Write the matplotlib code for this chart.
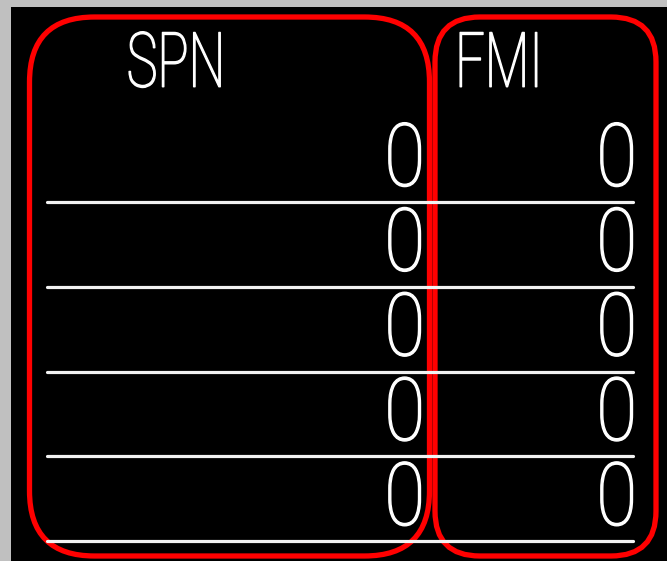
import matplotlib
matplotlib.use("Agg")
from matplotlib import pyplot as plt
from matplotlib.patches import FancyBboxPatch, Rectangle
from matplotlib.patheffects import AbstractPathEffect
from matplotlib.transforms import Affine2D

# table content
headers = ["SPN", "FMI"]
spn_values = [0, 0, 0, 0, 0]
fmi_values = [0, 0, 0, 0, 0]

W, H = 667, 561
fig = plt.figure(figsize=(W / 100, H / 100), dpi=100, facecolor="#c0c0c0")
ax = fig.add_axes([0, 0, 1, 1])
ax.set_xlim(0, W)
ax.set_ylim(H, 0)
ax.axis("off")

font = ["Roboto", "DejaVu Sans"]


class Squeeze(AbstractPathEffect):
    # narrow the glyphs horizontally around an anchor x (display px), slightly thicker strokes
    def __init__(self, sx, x0, lw):
        super().__init__()
        self.sx = sx
        self.x0 = x0
        self.lw = lw

    def draw_path(self, renderer, gc, tpath, affine, rgbFace=None):
        t = affine + Affine2D().translate(-self.x0, 0).scale(self.sx, 1).translate(self.x0, 0)
        gc0 = renderer.new_gc()
        gc0.copy_properties(gc)
        gc0.set_linewidth(self.lw)
        gc0.set_foreground("white")
        renderer.draw_path(gc0, tpath, t, rgbFace)
        gc0.restore()


def put(x, y, s, size, ha, sx):
    x0 = ax.transData.transform((x, y))[0]
    ax.text(x, y, s, color="white", fontsize=size, family=font, fontweight="light",
            ha=ha, va="center", path_effects=[Squeeze(sx, x0, 1.0)])


# black screen area
ax.add_patch(Rectangle((11, 7), W - 11, H - 7, facecolor="black", edgecolor="none"))

# layout of the rows
row_top = 162
row_h = 84.8
col_right = [425, 637]
head_x = [176, 499]

for x, h in zip(head_x, headers):
    put(x, 66, h, 55, "center", 0.68)

for i, (s, f) in enumerate(zip(spn_values, fmi_values)):
    y = row_top + i * row_h
    put(col_right[0], y, str(s), 63, "right", 0.85)
    put(col_right[1], y, str(f), 63, "right", 0.85)
    ax.plot([47, 633], [y + 40, y + 40], color="#f2f2f2", lw=2.3,
            solid_capstyle="round")

# red rounded frames around the two columns
ax.add_patch(FancyBboxPatch((29.5, 17), 400, 539,
                            boxstyle="round,pad=0,rounding_size=65",
                            facecolor="none", edgecolor="red", lw=3.8))
ax.add_patch(FancyBboxPatch((435, 17), 221, 539,
                            boxstyle="round,pad=0,rounding_size=45",
                            facecolor="none", edgecolor="red", lw=3.8))

fig.savefig("out.png", dpi=100, facecolor=fig.get_facecolor())
